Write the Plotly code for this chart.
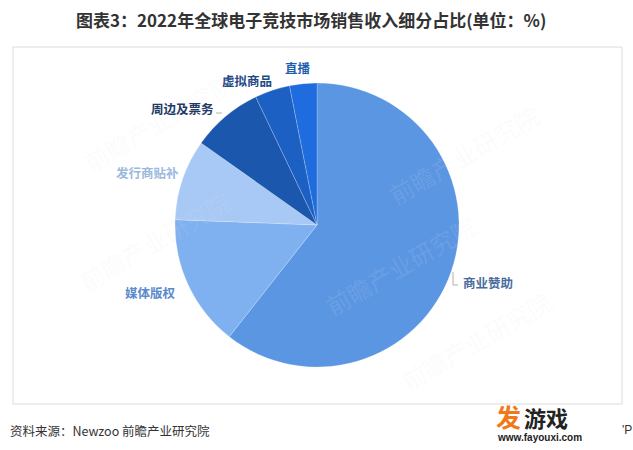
import plotly.graph_objects as go

categories = ["商业赞助", "媒体版权", "发行商贴补", "周边及票务", "虚拟商品", "直播"]
values = [60.6, 15.0, 9.2, 8.1, 4.0, 3.1]
slice_colors = ["#5b96e3", "#7fb0ef", "#a8c9f5", "#1a57ad", "#1d60c4", "#1f6cde"]
label_colors = ["#4a6c9c", "#5a8acb", "#9cb9dd", "#1f3a66", "#1f4a85", "#1f5fae"]
label_pos = [(488, 282), (150, 292), (147, 173), (182, 108), (247, 81), (298, 68)]

W, H = 633, 450
cx, cy, r = 317, 225, 142

fig = go.Figure(go.Pie(
    labels=categories, values=values, sort=False, direction="clockwise", rotation=0,
    marker=dict(colors=slice_colors, line=dict(color="rgba(255,255,255,0.35)", width=0.6)),
    textinfo="none", hoverinfo="label+value", showlegend=False,
    domain=dict(x=[(cx - r) / W, (cx + r) / W], y=[(H - cy - r) / H, (H - cy + r) / H]),
))

ann = []
font_cjk = "Noto Sans CJK SC"

# faint watermarks
for (x, y, a) in [(75, 62, -30), (548, 95, -30), (70, 240, -30), (400, 325, -30), (560, 400, -30)]:
    ann.append(dict(text="前瞻产业研究院", x=x / W, y=1 - y / H, xref="paper", yref="paper",
                    showarrow=False, textangle=a,
                    font=dict(family=font_cjk, size=24, color="rgba(225,225,225,0.13)")))

for name, col, (x, y) in zip(categories, label_colors, label_pos):
    ann.append(dict(text="<b>%s</b>" % name, x=x / W, y=1 - y / H, xref="paper", yref="paper",
                    showarrow=False, font=dict(family=font_cjk, size=12.5, color=col),
                    xanchor="center", yanchor="middle"))

ann.append(dict(text="<b>图表3：2022年全球电子竞技市场销售收入细分占比(单位：%)</b>",
                x=311 / W, y=1 - 20 / H, xref="paper", yref="paper", showarrow=False,
                font=dict(family=font_cjk, size=17, color="#333333"), xanchor="center", yanchor="middle"))
ann.append(dict(text="资料来源：Newzoo 前瞻产业研究院", x=8 / W, y=1 - 430 / H, xref="paper", yref="paper",
                showarrow=False, font=dict(family=font_cjk, size=12.5, color="#333333"),
                xanchor="left", yanchor="middle"))
ann.append(dict(text="<b>发</b>", x=508 / W, y=1 - 416 / H, xref="paper", yref="paper", showarrow=False,
                font=dict(family=font_cjk, size=25, color="#f07a1a"), xanchor="center", yanchor="middle"))
ann.append(dict(text="<b>游戏</b>", x=546 / W, y=1 - 417 / H, xref="paper", yref="paper", showarrow=False,
                font=dict(family=font_cjk, size=22, color="#222222"), xanchor="center", yanchor="middle"))
ann.append(dict(text="<b>www.fayouxi.com</b>", x=539 / W, y=1 - 437 / H, xref="paper", yref="paper",
                showarrow=False, font=dict(family="Liberation Sans", size=10, color="#222222"),
                xanchor="center", yanchor="middle"))
ann.append(dict(text="'P", x=620 / W, y=1 - 430 / H, xref="paper", yref="paper", showarrow=False,
                font=dict(family="Liberation Sans", size=12, color="#333333"), xanchor="left", yanchor="middle"))

shapes = [
    dict(type="rect", xref="paper", yref="paper", x0=13 / W, x1=622 / W, y0=1 - 404 / H, y1=1 - 47 / H,
         line=dict(color="#dcdcdc", width=1), layer="below"),
    dict(type="path", xref="paper", yref="paper",
         path="M %f %f L %f %f L %f %f" % (453 / W, 1 - 272 / H, 453 / W, 1 - 285 / H, 458 / W, 1 - 285 / H),
         line=dict(color="#b0b0b0", width=1)),
    dict(type="line", xref="paper", yref="paper", x0=216 / W, x1=222 / W, y0=1 - 113 / H, y1=1 - 113 / H,
         line=dict(color="#b0b0b0", width=1)),
]

fig.update_layout(width=W, height=H, margin=dict(l=0, r=0, t=0, b=0),
                  paper_bgcolor="white", plot_bgcolor="white", annotations=ann, shapes=shapes)
fig.write_html("out.html", config={"displayModeBar": False},
               post_script="document.body.style.margin='0';document.body.style.overflow='hidden';")
